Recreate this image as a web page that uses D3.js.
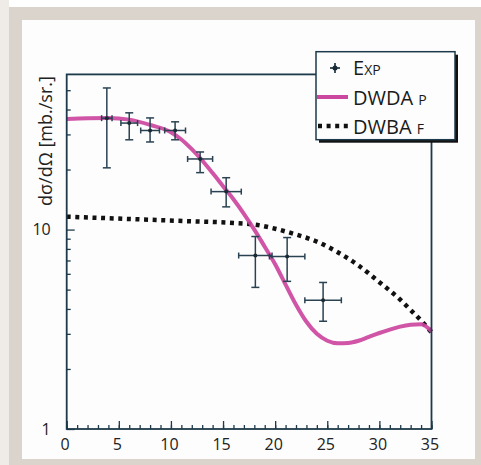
<!DOCTYPE html>
<html><head><meta charset="utf-8">
<script src="https://cdn.jsdelivr.net/npm/d3@7"></script>
<style>body{margin:0;background:#fff;}svg{display:block;}</style>
</head><body>
<svg id="c" width="481" height="465"></svg>
<script>
// ---- data ----
const expX    = [3.85, 6.0, 8.0, 10.4, 12.8, 15.3, 18.1, 21.15, 24.6];
const expY    = [36.2, 34.2, 31.4, 31.4, 22.6, 15.5, 7.41, 7.33, 4.42];
const expYLo  = [20.4, 28.2, 27.5, 28.2, 19.3, 13.0, 5.13, 5.50, 3.47];
const expYHi  = [51.3, 38.5, 36.3, 34.7, 24.5, 18.2, 9.23, 9.12, 5.43];
const expXErr = [0.5, 0.8, 0.9, 1.0, 1.2, 1.45, 1.6, 1.7, 1.75];

const dwdaX = [0, 2, 4, 6, 8, 10, 11, 12, 13, 14, 15, 16, 17, 18, 19, 20, 21, 22, 23, 24, 25, 26, 27, 28, 29, 30, 31, 32, 33, 34, 35];
const dwdaY = [35.9, 36.2, 36.3, 35.6, 33.5, 30.8, 28.3, 25.3, 22.2, 19.2, 16.5, 14.2, 12.0, 10.0, 8.2, 6.7, 5.3, 4.2, 3.45, 3.0, 2.77, 2.69, 2.7, 2.77, 2.9, 3.03, 3.15, 3.26, 3.33, 3.35, 3.09];

const dwbaX = [0, 4, 8, 12, 16, 18, 20, 22, 23, 24, 26, 28, 30, 32, 33, 34, 35];
const dwbaY = [11.6, 11.4, 11.2, 11.0, 10.8, 10.6, 10.1, 9.45, 9.1, 8.7, 7.7, 6.6, 5.45, 4.45, 3.95, 3.5, 3.05];

const xMajorTicks = [0, 5, 10, 15, 20, 25, 30, 35];
const yMajorTicks = [1, 10];
const yMinorTicks = [2, 3, 4, 5, 6, 7, 8, 9, 20, 30, 40, 50];
const legendLabels = [["E", "XP"], ["DWDA ", "P"], ["DWBA ", "F"]];
const yTitle = "dσ/dΩ [mb./sr.]";

// ---- drawing ----
const svg = d3.select("#c");
const axisCol = "#1d3a4a", pink = "#cc479f", barCol = "#2a4252";
const FONT = "'Open Sans', 'DejaVu Sans', sans-serif";

// frame background
svg.append("rect").attr("x", 0).attr("y", 0).attr("width", 9).attr("height", 465).attr("fill", "#efece8");
svg.append("rect").attr("x", 9).attr("y", 7).attr("width", 472).attr("height", 458).attr("fill", "#dad4cd");
svg.append("rect").attr("x", 22).attr("y", 20).attr("width", 453).attr("height", 439).attr("fill", "#fdfdfd");

const L = 66.7, R = 431.5, T = 74.4, B = 429;
const x = d3.scaleLinear().domain([0, 35]).range([L, R]);
const y = d3.scaleLog().domain([1, 60]).range([B, T]);

// curves
const lineDwda = d3.line().x((d, i) => x(dwdaX[i])).y(d => y(d)).curve(d3.curveMonotoneX);
const lineDwba = d3.line().x((d, i) => x(dwbaX[i])).y(d => y(d)).curve(d3.curveMonotoneX);

svg.append("path").attr("d", lineDwba(dwbaY)).attr("fill", "none")
  .attr("stroke", "#111").attr("stroke-width", 4.5).attr("stroke-dasharray", "4,4.6");
svg.append("path").attr("d", lineDwda(dwdaY)).attr("fill", "none")
  .attr("stroke", pink).attr("stroke-width", 4).attr("stroke-opacity", 0.92);

// error bars
const eg = svg.append("g").attr("stroke", barCol).attr("stroke-width", 1.5).attr("fill", "none");
expX.forEach((xv, i) => {
  const cx = x(xv), cy = y(expY[i]);
  const y0 = y(expYLo[i]), y1 = y(expYHi[i]);
  const x0 = x(xv - expXErr[i]), x1 = x(xv + expXErr[i]);
  eg.append("line").attr("x1", cx).attr("x2", cx).attr("y1", y1).attr("y2", y0);
  eg.append("line").attr("x1", cx - 4).attr("x2", cx + 4).attr("y1", y1).attr("y2", y1);
  eg.append("line").attr("x1", cx - 4).attr("x2", cx + 4).attr("y1", y0).attr("y2", y0);
  eg.append("line").attr("x1", x0).attr("x2", x1).attr("y1", cy).attr("y2", cy);
  eg.append("line").attr("x1", x0).attr("x2", x0).attr("y1", cy - 3).attr("y2", cy + 3);
  eg.append("line").attr("x1", x1).attr("x2", x1).attr("y1", cy - 3).attr("y2", cy + 3);
  svg.append("circle").attr("cx", cx).attr("cy", cy).attr("r", 2).attr("fill", "#1a2a35");
});

// frame
svg.append("rect").attr("x", L).attr("y", T).attr("width", R - L).attr("height", B - T)
  .attr("fill", "none").attr("stroke", axisCol).attr("stroke-width", 1.8);

// axes
const styleAxis = g => { g.select(".domain").remove(); g.selectAll(".tick line").attr("stroke", axisCol).attr("stroke-width", 1.3); };
svg.append("g").attr("transform", `translate(0,${B})`)
  .call(d3.axisBottom(x).tickValues(d3.range(0, 36)).tickSize(-4).tickFormat(""))
  .call(styleAxis);
svg.append("g").attr("transform", `translate(0,${B})`)
  .call(d3.axisBottom(x).tickValues(xMajorTicks).tickSize(-8).tickPadding(10).tickFormat(d3.format("d")))
  .call(styleAxis)
  .call(g => g.selectAll("text").attr("font-family", FONT).attr("font-size", 16).attr("fill", "#222").attr("dx", -2));
svg.append("g").attr("transform", `translate(${L},0)`)
  .call(d3.axisLeft(y).tickValues(yMinorTicks).tickSize(-4).tickFormat(""))
  .call(styleAxis);
svg.append("g").attr("transform", `translate(${L},0)`)
  .call(d3.axisLeft(y).tickValues(yMajorTicks).tickSize(-8).tickPadding(16).tickFormat(d3.format("d")))
  .call(styleAxis)
  .call(g => g.selectAll("text").attr("font-family", FONT).attr("font-size", 16).attr("fill", "#222"));

// y title
svg.append("text").attr("transform", "translate(52,141) rotate(-90)")
  .attr("text-anchor", "middle").attr("font-family", FONT).attr("font-size", 18).attr("fill", "#222")
  .text(yTitle);

// legend
const lx = 316, ly = 51.7, lw = 139, lh = 88;
svg.append("rect").attr("x", lx + 3).attr("y", ly + 3).attr("width", lw).attr("height", lh).attr("fill", "#111");
svg.append("rect").attr("x", lx).attr("y", ly).attr("width", lw).attr("height", lh)
  .attr("fill", "#fdfdfd").attr("stroke", axisCol).attr("stroke-width", 1.5);
const rowsY = [75, 105, 134];
legendLabels.forEach((lab, i) => {
  const t = svg.append("text").attr("x", 353).attr("y", rowsY[i]).attr("font-family", FONT).attr("fill", "#1a1a1a");
  t.append("tspan").attr("font-size", 20).text(lab[0]);
  t.append("tspan").attr("font-size", 14).text(lab[1]);
});
// markers
const mx = 335, my = rowsY[0] - 7;
svg.append("line").attr("x1", mx - 5).attr("x2", mx + 5).attr("y1", my).attr("y2", my).attr("stroke", barCol).attr("stroke-width", 1.8);
svg.append("line").attr("x1", mx).attr("x2", mx).attr("y1", my - 5).attr("y2", my + 5).attr("stroke", barCol).attr("stroke-width", 1.8);
svg.append("circle").attr("cx", mx).attr("cy", my).attr("r", 2.5).attr("fill", "#1a2a35");
svg.append("line").attr("x1", 317).attr("x2", 348).attr("y1", rowsY[1] - 8).attr("y2", rowsY[1] - 8)
  .attr("stroke", pink).attr("stroke-width", 4);
svg.append("line").attr("x1", 318).attr("x2", 349).attr("y1", rowsY[2] - 8).attr("y2", rowsY[2] - 8)
  .attr("stroke", "#111").attr("stroke-width", 4.5).attr("stroke-dasharray", "4,4.6");
</script>
</body></html>
